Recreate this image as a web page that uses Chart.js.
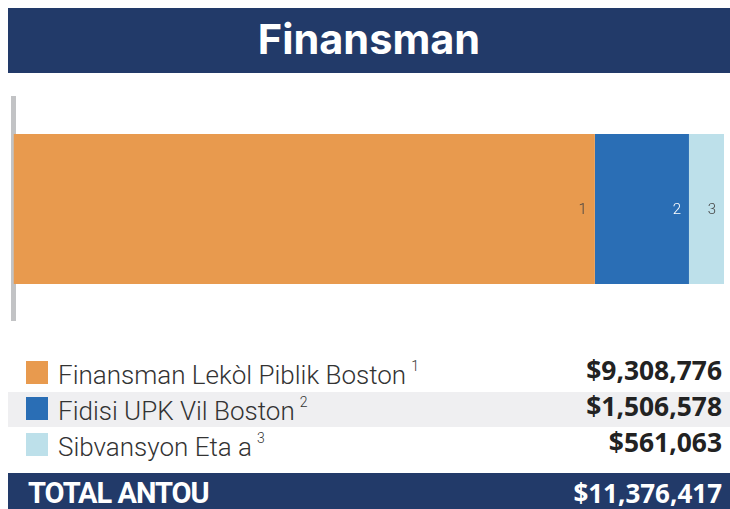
<!DOCTYPE html>
<html>
<head>
<meta charset="utf-8">
<script src="https://cdn.jsdelivr.net/npm/chart.js@4"></script>
<style>
  html, body { margin: 0; padding: 0; background: #fff; }
  body { width: 730px; height: 509px; position: relative; overflow: hidden; font-family: Roboto, "Noto Sans", sans-serif; }
  .title {
    position: absolute; left: 8px; top: 8px; width: 722px; height: 65px;
    background: #223a69; color: #fff; text-align: center;
    font-family: Inter, Roboto, sans-serif; font-weight: 700; font-size: 41.5px; line-height: 63px;
  }
  .chart-box { position: absolute; left: 0; top: 90px; width: 730px; height: 240px; }
  .row {
    position: absolute; left: 8px; width: 722px; height: 35px;
  }
  .row.alt { background: #efeff1; }
  .swatch { position: absolute; left: 18px; top: 5px; width: 22px; height: 23px; }
  .name {
    position: absolute; left: 50px; top: -4px; line-height: 35px; white-space: nowrap;
    font-size: 26px; font-weight: 300; color: #333;
  }
  .name sup { font-size: 14px; position: relative; top: -3px; margin-left: 5px; }
  .val {
    position: absolute; right: 8px; top: -3px; line-height: 35px;
    font-family: "Open Sans", sans-serif; font-size: 26.4px; font-weight: 700; color: #222;
  }
  .total {
    position: absolute; left: 8px; top: 473px; width: 722px; height: 36px;
    background: #223a69; color: #fff; font-family: Roboto, sans-serif; font-weight: 700;
  }
  .total span { position: absolute; top: 0; line-height: 40px; font-size: 29px; }
  .total .lbl { left: 20px; letter-spacing: -1px; }
  .total .amt { right: 8px; font-family: "Open Sans", sans-serif; font-size: 26px; }
</style>
</head>
<body>
<div class="title">Finansman</div>
<div class="chart-box"><canvas id="fundingChart"></canvas></div>
<div id="legendRows"></div>
<div class="total"><span class="lbl">TOTAL ANTOU</span><span class="amt" id="totalAmt"></span></div>

<script>
// ====================================================================
// FUNDING BAR (Finansman)
// ====================================================================

const sourceNames = ['Finansman Lekòl Piblik Boston', 'Fidisi UPK Vil Boston', 'Sibvansyon Eta a'];
const sourceNotes = ['1', '2', '3'];
const sourceAmounts = [9308776, 1506578, 561063];
const sourceColors = ['#e89a4e', '#2a6eb5', '#bde0ea'];
const noteColors = ['#444', '#ffffff', '#444'];

const totalAmount = sourceAmounts.reduce((a, b) => a + b, 0);
const money = v => '$' + v.toLocaleString('en-US');

// legend rows under the bar
const rowsEl = document.getElementById('legendRows');
sourceNames.forEach((name, i) => {
  const row = document.createElement('div');
  row.className = 'row' + (i === 1 ? ' alt' : '');
  row.style.top = (356 + i * 36) + 'px';
  row.innerHTML =
    '<div class="swatch" style="background:' + sourceColors[i] + '"></div>' +
    '<div class="name">' + name + '<sup>' + sourceNotes[i] + '</sup></div>' +
    '<div class="val">' + money(sourceAmounts[i]) + '</div>';
  rowsEl.appendChild(row);
});
document.getElementById('totalAmt').textContent = money(totalAmount);

// small numbers inside the right end of each segment
const segmentNotes = {
  id: 'segmentNotes',
  afterDatasetsDraw(chart) {
    const ctx = chart.ctx;
    ctx.save();
    ctx.font = '300 15px Roboto, sans-serif';
    ctx.textAlign = 'right';
    ctx.textBaseline = 'middle';
    chart.data.datasets.forEach((ds, i) => {
      const bar = chart.getDatasetMeta(i).data[0];
      if (!bar) return;
      ctx.fillStyle = noteColors[i];
      ctx.fillText(sourceNotes[i], bar.x - 8, bar.y + 1);
    });
    ctx.restore();
  }
};

const ctx = document.getElementById('fundingChart').getContext('2d');
new Chart(ctx, {
  type: 'bar',
  data: {
    labels: ['Finansman'],
    datasets: sourceNames.map((name, i) => ({
      label: name,
      data: [sourceAmounts[i]],
      backgroundColor: sourceColors[i],
      borderWidth: 0,
      barPercentage: 0.676,
      categoryPercentage: 1
    }))
  },
  options: {
    indexAxis: 'y',
    responsive: true,
    maintainAspectRatio: false,
    animation: false,
    layout: { padding: { left: 13.5, right: 6, top: 8, bottom: 10 } },
    scales: {
      x: { stacked: true, display: false, min: 0, max: totalAmount },
      y: {
        stacked: true,
        z: 1,
        ticks: { display: false },
        grid: { display: false },
        border: { display: true, color: '#c2c3c5', width: 5 },
        afterFit: s => { s.width = 0; }
      }
    },
    plugins: {
      legend: { display: false },
      tooltip: { enabled: false }
    }
  },
  plugins: [segmentNotes]
});
</script>
</body>
</html>
